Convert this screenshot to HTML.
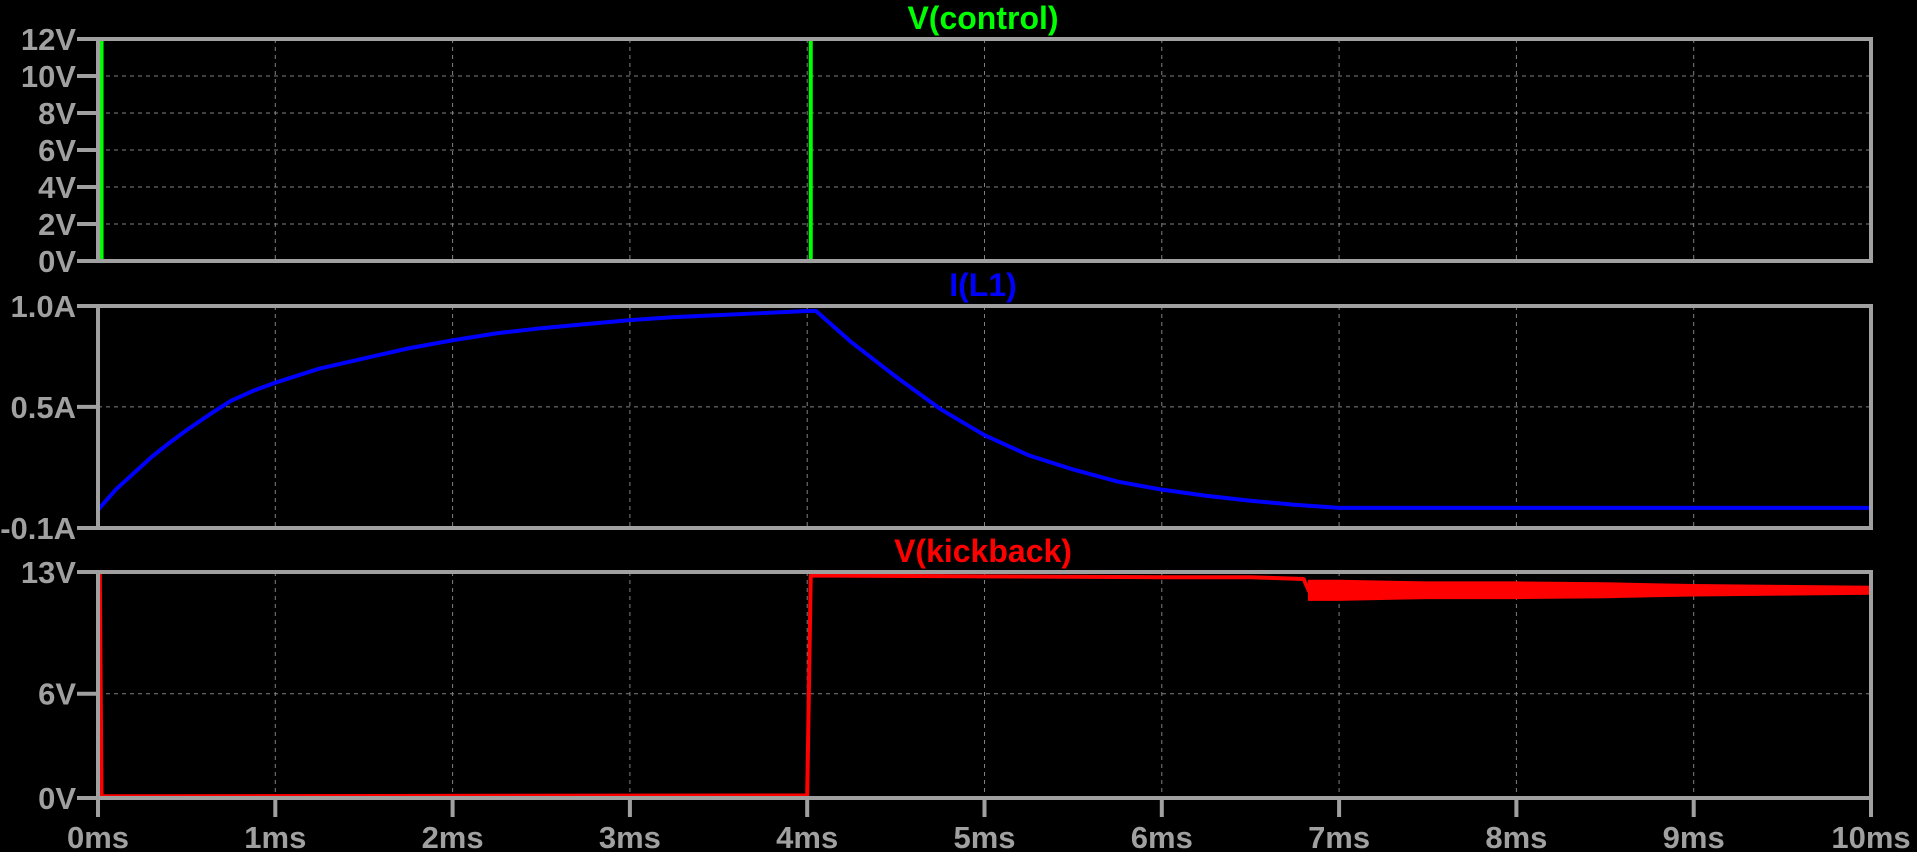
<!DOCTYPE html>
<html><head><meta charset="utf-8"><style>
html,body{margin:0;padding:0;background:#000;width:1917px;height:852px;overflow:hidden}
svg{display:block}
text{font-family:"Liberation Sans",Arial,sans-serif;font-weight:bold}
</style></head><body>
<svg id="chart" width="1917" height="852" viewBox="0 0 1917 852"></svg>
<script>
// ---- data ----
const xTicks = [0,1,2,3,4,5,6,7,8,9,10];
const xTickLabels = ["0ms","1ms","2ms","3ms","4ms","5ms","6ms","7ms","8ms","9ms","10ms"];
const ctrlTicks = [0,2,4,6,8,10,12];
const ctrlTickLabels = ["0V","2V","4V","6V","8V","10V","12V"];
const ctrlT = [0.02, 0.02, 0.02, 4.02, 4.02, 4.02];
const ctrlV = [0, 12, 0, 0, 12, 0];
const iTicks = [-0.1,0.5,1.0];
const iTickLabels = ["-0.1A","0.5A","1.0A"];
const iT = [0,0.1,0.2,0.3,0.4,0.5,0.625,0.75,0.875,1,1.25,1.5,1.75,2,2.25,2.5,2.75,3,3.25,3.5,3.75,4,4.05,4.25,4.5,4.75,5,5.25,5.5,5.75,6,6.25,6.5,6.75,7,10];
const iV = [-0.01,0.09,0.17,0.25,0.32,0.385,0.46,0.53,0.58,0.62,0.69,0.74,0.79,0.83,0.865,0.89,0.91,0.93,0.945,0.955,0.965,0.975,0.975,0.82,0.65,0.49,0.36,0.26,0.19,0.13,0.09,0.06,0.035,0.015,0.0,0.0];
const kTicks = [0,6,13];
const kTickLabels = ["0V","6V","13V"];
const kT = [0,0.01,0.02,0.3,4.0,4.02,5,6,6.5,6.8,6.83,7,8,9,10];
const kV = [0,13,0.1,0.1,0.15,12.8,12.75,12.7,12.7,12.6,11.9,11.95,12.0,12.0,11.95];
const kBandT = [6.83,7,7.5,8,8.5,9,9.5,10];
const kBandHalf = [0.55,0.55,0.45,0.45,0.4,0.3,0.25,0.2];

// ---- layout ----
const X0=98, X1=1871;
const panels = [
 {name:"control",top:39,bot:261,min:0,max:12,ticks:ctrlTicks,labels:ctrlTickLabels,title:"V(control)",color:"#00ff00",titleX:983},
 {name:"il1",top:306,bot:528,min:-0.1,max:1.0,ticks:iTicks,labels:iTickLabels,title:"I(L1)",color:"#0000ff",titleX:983},
 {name:"kickback",top:572,bot:798,min:0,max:13,ticks:kTicks,labels:kTickLabels,title:"V(kickback)",color:"#ff0000",titleX:983}
];
const svg=document.getElementById('chart');
const NS="http://www.w3.org/2000/svg";
function mk(tag,attrs,parent){const e=document.createElementNS(NS,tag);for(const k in attrs)e.setAttribute(k,attrs[k]);(parent||svg).appendChild(e);return e;}
const xs=t=>X0+(X1-X0)*t/10;
function ys(p,v){return p.bot-(p.bot-p.top)*(v-p.min)/(p.max-p.min);}
const GRAY="#a0a0a0";

panels.forEach((p,pi)=>{
  const g=mk('g',{});
  
  
  xTicks.forEach(t=>{ if(t>0&&t<10){const l=mk('line',{x1:xs(t),x2:xs(t),y1:p.top,y2:p.bot,stroke:"#808080","stroke-width":1,"stroke-dasharray":"4,4"},g);
    }});
  p.ticks.forEach((v,i)=>{const y=ys(p,v);
    if(v!==p.min&&v!==p.max){const l=mk('line',{x1:X0,x2:X1,y1:y,y2:y,stroke:"#808080","stroke-width":1,"stroke-dasharray":"4,4"},g);
      }
    const tk=mk('line',{x1:77,x2:X0,y1:y,y2:y,stroke:GRAY,"stroke-width":4},g);
    
    const tx=mk('text',{x:76,y:y+11,"text-anchor":"end","font-size":31,fill:GRAY},g);
    tx.textContent=p.labels[i];
    
  });
  const tt=mk('text',{x:p.titleX,y:p.top-10,"text-anchor":"middle","font-size":32,fill:p.color},g);
  tt.textContent=p.title;
  
  let pts;
  if(p.name==="control") pts=ctrlT.map((t,i)=>xs(t)+','+ys(p,ctrlV[i]));
  else if(p.name==="il1") pts=iT.map((t,i)=>xs(t)+','+ys(p,iV[i]));
  else pts=kT.map((t,i)=>xs(t)+','+ys(p,kV[i]));
  if(p.name==="kickback"){
    const up=kBandT.map((t,i)=>xs(t)+','+ys(p,11.95+kBandHalf[i]));
    const dn=kBandT.slice().reverse().map((t,ri)=>{const i=kBandT.length-1-ri;return xs(t)+','+ys(p,11.95-kBandHalf[i]);});
    const band=mk('polygon',{points:up.concat(dn).join(' '),fill:p.color,stroke:p.color,"stroke-width":2},g);
    
  }
  const pl=mk('polyline',{points:pts.join(' '),fill:"none",stroke:p.color,"stroke-width":4,"stroke-linejoin":"round"},g);
  
  const fr=mk('rect',{x:X0,y:p.top,width:X1-X0,height:p.bot-p.top,fill:"none",stroke:GRAY,"stroke-width":4},g);
  
  if(pi===2){
    xTicks.forEach((t,i)=>{
      const tk=mk('line',{x1:xs(t),x2:xs(t),y1:p.bot,y2:817,stroke:GRAY,"stroke-width":4},g);
      
      const tx=mk('text',{x:xs(t),y:848,"text-anchor":"middle","font-size":31,fill:GRAY},g);
      tx.textContent=xTickLabels[i];
      
    });
  }
});
</script>
</body></html>
